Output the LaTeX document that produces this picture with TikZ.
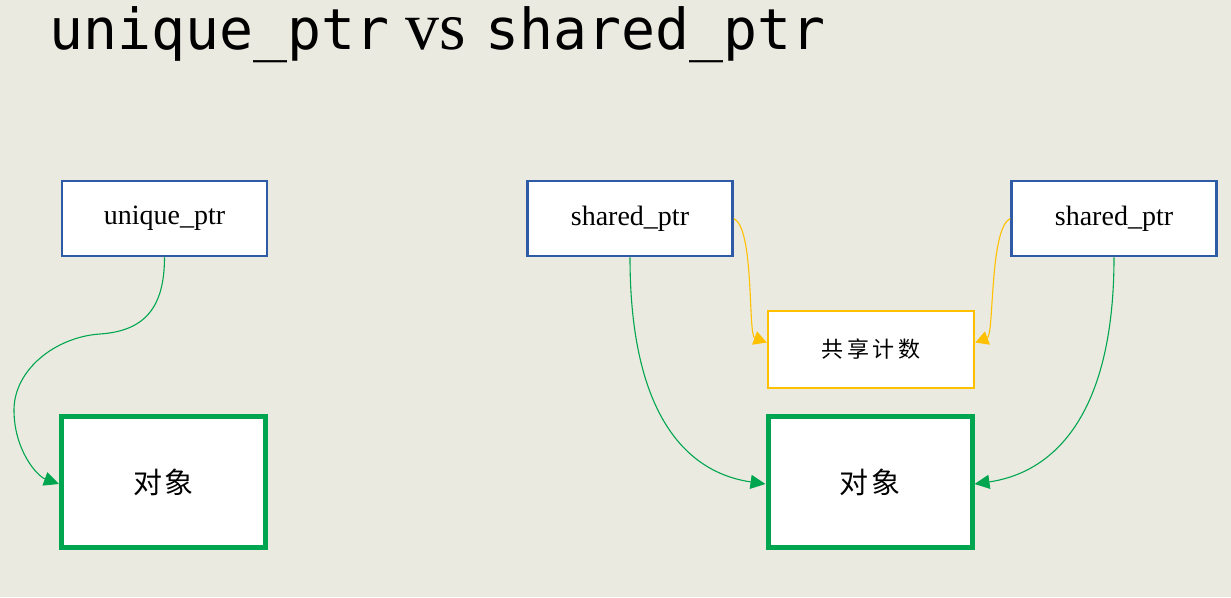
\documentclass[tikz,border=0pt]{standalone}
\usepackage{fontspec}
\setmainfont{Liberation Serif}
\newfontfamily\titlemono{DejaVu Sans Mono}
\newfontfamily\cjk{Noto Sans CJK SC}
\usetikzlibrary{arrows.meta}
\definecolor{bgc}{HTML}{EBEAE1}
\definecolor{pblue}{HTML}{2F5AA6}
\definecolor{ogreen}{HTML}{00A64F}
\definecolor{cyellow}{HTML}{FFC000}
\tikzset{
  ptrbox/.style={draw=pblue, line width=2.5pt, fill=white, minimum width=205pt, minimum height=75pt, inner sep=0pt, font=\fontsize{28}{30}\selectfont},
  objbox/.style={draw=ogreen, line width=5pt, fill=white, minimum width=204pt, minimum height=131pt, inner sep=0pt, font=\cjk\fontsize{29}{32}\selectfont},
  cntbox/.style={draw=cyellow, line width=2.5pt, fill=white, minimum width=206pt, minimum height=77pt, inner sep=0pt, font=\cjk\fontsize{22}{26}\selectfont},
  gconn/.style={draw=ogreen, line width=1.1pt, -{Triangle[length=15pt,width=14pt]}},
  yconn/.style={draw=cyellow, line width=1.1pt, -{Triangle[length=13pt,width=14pt]}},
  titletext/.style={anchor=base west, inner sep=0pt, text height=40pt, text depth=12pt}
}
\begin{document}
\begin{tikzpicture}[x=1pt,y=-1pt]
\fill[bgc] (0,0) rectangle (1231,597);
\useasboundingbox (0,0) rectangle (1231,597);
% title
\node[titletext, font=\titlemono\fontsize{56.5}{60}\selectfont] (t1) at (49,49) {unique\_ptr};
\node[titletext, font=\fontsize{68}{72}\selectfont] (t2) at (405,49) {vs};
\node[titletext, font=\titlemono\fontsize{56.5}{60}\selectfont] (t3) at (485,49) {shared\_ptr};
% boxes
\node[ptrbox] (uq) at (164.5,218.5) {unique\_ptr};
\node[objbox] (obj1) at (163.5,482) {对\kern2pt 象};
\node[ptrbox] (sp1) at (630,218.5) {shared\_ptr};
\node[ptrbox] (sp2) at (1114,218.5) {shared\_ptr};
\node[cntbox] (cnt) at (871,349.5) {共\,享\,计\,数};
\node[objbox] (obj2) at (870,482) {对\kern4pt 象};
% unique connector
\coordinate (m1) at (100,334);
\coordinate (m2) at (14,410);
\draw[gconn] (uq.south) .. controls +(0,50) and +(45,-3) .. (m1)
   .. controls +(-45,3) and +(0,-40) .. (m2)
   .. controls +(0,40) and +(-22,-8) .. ([yshift=-2pt]obj1.west);
% shared connectors
\draw[gconn] (sp1.south) .. controls +(0,170) and +(-70,-10) .. ([yshift=-2pt]obj2.west);
\draw[gconn] (sp2.south) .. controls +(0,170) and +(70,-10) .. ([yshift=-2pt]obj2.east);
\draw[yconn] (sp1.east) .. controls +(21,10) and +(-19,-7) .. ([yshift=7pt]cnt.west);
\draw[yconn] (sp2.west) .. controls +(-21,10) and +(19,-7) .. ([yshift=7pt]cnt.east);
\end{tikzpicture}
\end{document}
